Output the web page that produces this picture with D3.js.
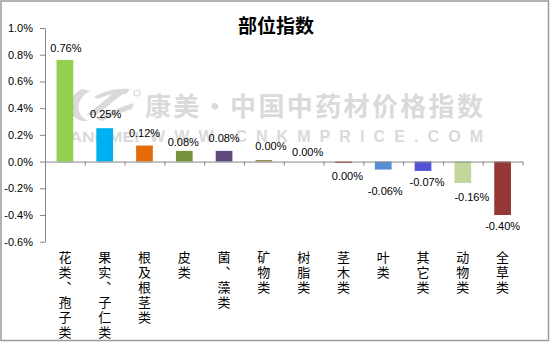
<!DOCTYPE html>
<html><head><meta charset="utf-8">
<script src="https://cdn.jsdelivr.net/npm/d3@7"></script>
<style>
html,body{margin:0;padding:0;background:#fff;}
svg{display:block;}
</style></head>
<body>
<svg id="chart" width="551" height="343"></svg>
<script>
const title = "部位指数";
const categories = ["花类、孢子类","果实、子仁类","根及根茎类","皮类","菌、藻类","矿物类","树脂类","茎木类","叶类","其它类","动物类","全草类"];
const values = [0.0076,0.0025,0.0012,0.0008,0.0008,0.00004,0,-0.00004,-0.0006,-0.0007,-0.0016,-0.0040];
const colors = ["#92D050","#00B0F0","#E46C0A","#77933C","#604A7B","#948A54","#4BACC6","#C0504D","#558ED5","#5252D4","#C3D69B","#953735"];
const yTicks = [-0.006,-0.004,-0.002,0,0.002,0.004,0.006,0.008,0.010];
const labelDx = [1,1,0,-1,0,7,4,4,2,4,9,0];
const labelDy = [-8,-10,-9,-5,-9,-11,-6,18,25,15,18,15];
const watermarkCN = "康美·中国中药材价格指数";
const watermarkEN1 = "KANGMEI";
const watermarkEN2 = "WWW.CNKMPRICE.COM";

const svg = d3.select("#chart");
const L = 45, R = 522.5, T = 28, B = 241.7;
const fmt = d3.formatLocale({decimal:".",thousands:",",grouping:[3],currency:["",""],minus:"-"});
const pct2 = fmt.format(".2%"), pct1 = fmt.format(".1%");

const x = d3.scaleBand().domain(categories).range([L, R]).paddingInner(0.58).paddingOuter(0.29);
const xEdge = d3.scaleLinear().domain([0, categories.length]).range([L, R]);
const y = d3.scaleLinear().domain([-0.006, 0.010]).range([B, T]);

// border
svg.append("rect").attr("x",1).attr("y",1).attr("width",547.5).attr("height",339.5)
  .attr("fill","#fff").attr("stroke","#9a9a9a").attr("stroke-width",1.5);

// title
svg.append("text").attr("x",276).attr("y",33).attr("text-anchor","middle")
  .attr("font-family","'Noto Sans CJK SC'").attr("font-weight","bold").attr("font-size",19)
  .attr("fill","#000").text(title);

// watermark
const wmc = "#dadada";
const wm = svg.append("g").attr("fill",wmc);
const logo = wm.append("g").attr("transform","translate(100,105)");
logo.append("path").attr("d","M-18,-16 C-34,-8 -36,10 -18,16 L-12,16 C-26,8 -24,-6 -10,-14 Z");
logo.append("path").attr("d","M-14,10 L14,-12 L24,-12 L-4,10 Z");
logo.append("path").attr("d","M-4,14 C8,8 20,2 34,-2 L32,4 C20,8 10,12 2,16 Z");
logo.append("path").attr("d","M-6,-8 C4,-14 16,-17 30,-16 L26,-11 C14,-12 4,-9 -2,-6 Z");
wm.append("circle").attr("cx",137).attr("cy",93).attr("r",3).attr("fill","none").attr("stroke",wmc).attr("stroke-width",1.2);
wm.append("text").attr("x",145).attr("y",116).attr("font-family","'Noto Sans CJK SC'")
  .attr("font-weight","bold").attr("font-size",26).attr("textLength",338).attr("lengthAdjust","spacing")
  .text(watermarkCN);
wm.append("text").attr("x",57).attr("y",142).attr("font-family","'Liberation Sans'")
  .attr("font-weight","bold").attr("font-size",15).attr("textLength",82).attr("lengthAdjust","spacingAndGlyphs")
  .text(watermarkEN1);
wm.append("text").attr("x",150).attr("y",142).attr("font-family","'Liberation Sans'")
  .attr("font-weight","bold").attr("font-size",16).attr("textLength",333).attr("lengthAdjust","spacing")
  .text(watermarkEN2);

// y axis
const yAxis = svg.append("g").attr("transform",`translate(${L},0)`)
  .call(d3.axisLeft(y).tickValues(yTicks).tickFormat(pct1).tickSize(5).tickSizeOuter(0).tickPadding(7));
yAxis.select(".domain").attr("stroke","#868686");
yAxis.selectAll(".tick line").attr("stroke","#868686");
yAxis.selectAll(".tick text").attr("font-family","'Liberation Sans'").attr("font-size",11).attr("fill","#000");

// bars
svg.append("g").selectAll("rect").data(values).join("rect")
  .attr("x",(d,i)=>x(categories[i]))
  .attr("width",x.bandwidth())
  .attr("y",d=>{const h=Math.max(Math.abs(y(d)-y(0)), d!==0?1.5:0); return d>=0? y(0)-h : y(0);})
  .attr("height",d=>Math.max(Math.abs(y(d)-y(0)), d!==0?1.5:0))
  .attr("fill",(d,i)=>colors[i]);

// x axis at zero
const xAxis = svg.append("g").attr("transform",`translate(0,${y(0)})`)
  .call(d3.axisBottom(xEdge).tickValues(d3.range(1,categories.length+1)).tickFormat("").tickSize(4).tickSizeOuter(0));
xAxis.select(".domain").attr("stroke","#868686");
xAxis.selectAll(".tick line").attr("stroke","#868686");

// data labels
svg.append("g").selectAll("text").data(values).join("text")
  .attr("x",(d,i)=>x(categories[i])+x.bandwidth()/2+labelDx[i])
  .attr("y",(d,i)=>y(d)+labelDy[i])
  .attr("text-anchor","middle").attr("font-family","'Liberation Sans'").attr("font-size",11).attr("fill","#000")
  .text(d=>pct2(d));

// category labels, stacked vertically
svg.append("g").attr("font-family","'Noto Sans CJK SC'").attr("font-size",13).attr("fill","#000")
  .selectAll("text").data(categories).join("text")
  .attr("x",c=>x(c)+x.bandwidth()/2)
  .attr("y",251)
  .style("writing-mode","vertical-rl")
  .style("letter-spacing","2px")
  .text(c=>c);
</script>
</body></html>
